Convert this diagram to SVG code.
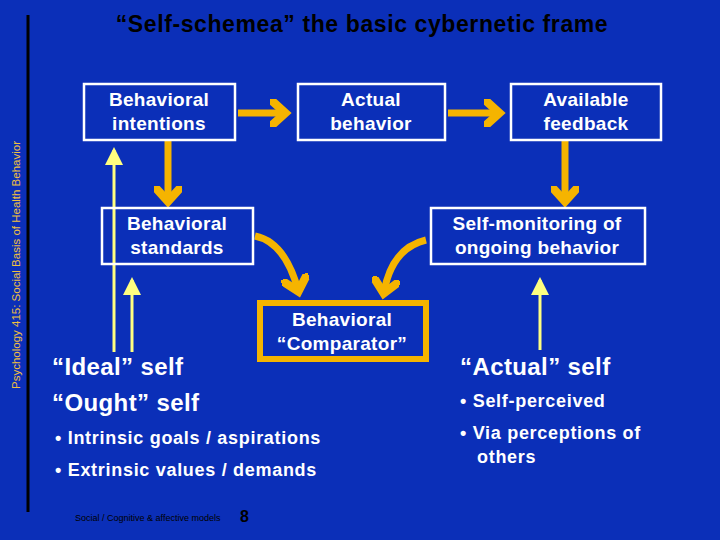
<svg xmlns="http://www.w3.org/2000/svg" width="720" height="540" viewBox="0 0 720 540">
<defs>
<style>
.t{font-family:"Liberation Sans",Arial,sans-serif;font-weight:bold;fill:#fff}
.n{font-size:19px;letter-spacing:0.3px}
.s{font-size:24px;letter-spacing:0.4px}
.u{font-size:18px;letter-spacing:0.7px}
.b{fill:none;stroke:#fff;stroke-width:2.5}
.o{fill:none;stroke:#f5b400;stroke-width:7}
.y{fill:none;stroke:#ffff80;stroke-width:3}
</style>
<marker id="ao" markerWidth="4" markerHeight="4" refX="2" refY="2" orient="auto" markerUnits="strokeWidth"><path d="M0,0 L2.2,2 L0,4 M0,0" fill="none" stroke="#f5b400" stroke-width="1.2"/></marker>
<marker id="ay" markerWidth="6" markerHeight="6" refX="5" refY="3" orient="auto" markerUnits="strokeWidth"><path d="M0,0 L6,3 L0,6 Z" fill="#ffff80"/></marker>
</defs>
<rect width="720" height="540" fill="#0b2fb8"/>
<line x1="28" y1="15" x2="28" y2="512" stroke="#000" stroke-width="3"/>
<text class="t" x="362" y="32" text-anchor="middle" font-size="23" letter-spacing="0.6" style="fill:#000">“Self-schemea” the basic cybernetic frame</text>
<text x="20" y="265" transform="rotate(-90 20 265)" text-anchor="middle" font-family="Liberation Sans,Arial,sans-serif" font-size="11.5" fill="#f0c040">Psychology 415: Social Basis of Health Behavior</text>
<g id="connectors">
<line class="o" x1="238" y1="113" x2="284" y2="113" marker-end="url(#ao)"/>
<line class="o" x1="448" y1="113" x2="498" y2="113" marker-end="url(#ao)"/>
<line class="o" x1="168" y1="140" x2="168" y2="200" marker-end="url(#ao)"/>
<line class="o" x1="565" y1="140" x2="565" y2="200" marker-end="url(#ao)"/>
<path class="o" d="M255,236 Q285,242 298,290" marker-end="url(#ao)"/>
<path class="o" d="M426,240 Q392,248 384,292" marker-end="url(#ao)"/>
<line class="y" x1="114" y1="352" x2="114" y2="150" marker-end="url(#ay)"/>
<line class="y" x1="132" y1="352" x2="132" y2="280" marker-end="url(#ay)"/>
<line class="y" x1="540" y1="350" x2="540" y2="280" marker-end="url(#ay)"/>
</g>
<g id="intentions"><rect class="b" x="84" y="84" width="151" height="56"/><text class="t n" text-anchor="middle" x="159" y="106">Behavioral</text><text class="t n" text-anchor="middle" x="159" y="130">intentions</text></g>
<g id="actual"><rect class="b" x="298" y="84" width="147" height="56"/><text class="t n" text-anchor="middle" x="371" y="106">Actual</text><text class="t n" text-anchor="middle" x="371" y="130">behavior</text></g>
<g id="feedback"><rect class="b" x="511" y="84" width="150" height="56"/><text class="t n" text-anchor="middle" x="586" y="106">Available</text><text class="t n" text-anchor="middle" x="586" y="130">feedback</text></g>
<g id="standards"><rect class="b" x="102" y="208" width="151" height="56"/><text class="t n" text-anchor="middle" x="177" y="230">Behavioral</text><text class="t n" text-anchor="middle" x="177" y="254">standards</text></g>
<g id="monitoring"><rect class="b" x="431" y="208" width="214" height="56"/><text class="t n" text-anchor="middle" x="537" y="230">Self-monitoring of</text><text class="t n" text-anchor="middle" x="537" y="254">ongoing behavior</text></g>
<g id="comparator"><rect x="260" y="303" width="166" height="56" fill="none" stroke="#f5b400" stroke-width="6"/><text class="t n" text-anchor="middle" x="342" y="326">Behavioral</text><text class="t n" text-anchor="middle" x="342" y="350">“Comparator”</text></g>
<g id="ideal"><text class="t s" x="52" y="375">“Ideal” self</text><text class="t s" x="52" y="411">“Ought” self</text><text class="t u" x="55" y="444">• Intrinsic goals / aspirations</text><text class="t u" x="55" y="476">• Extrinsic values / demands</text></g>
<g id="actualself"><text class="t s" x="460" y="375">“Actual” self</text><text class="t u" x="460" y="407">• Self-perceived</text><text class="t u" x="460" y="439">• Via perceptions of</text><text class="t u" x="477" y="463">others</text></g>
<text x="75" y="521" font-family="Liberation Sans,Arial,sans-serif" font-size="9" fill="#000">Social / Cognitive &amp; affective models</text>
<text x="240" y="522" font-family="Liberation Sans,Arial,sans-serif" font-size="16" font-weight="bold" fill="#000">8</text>
</svg>
